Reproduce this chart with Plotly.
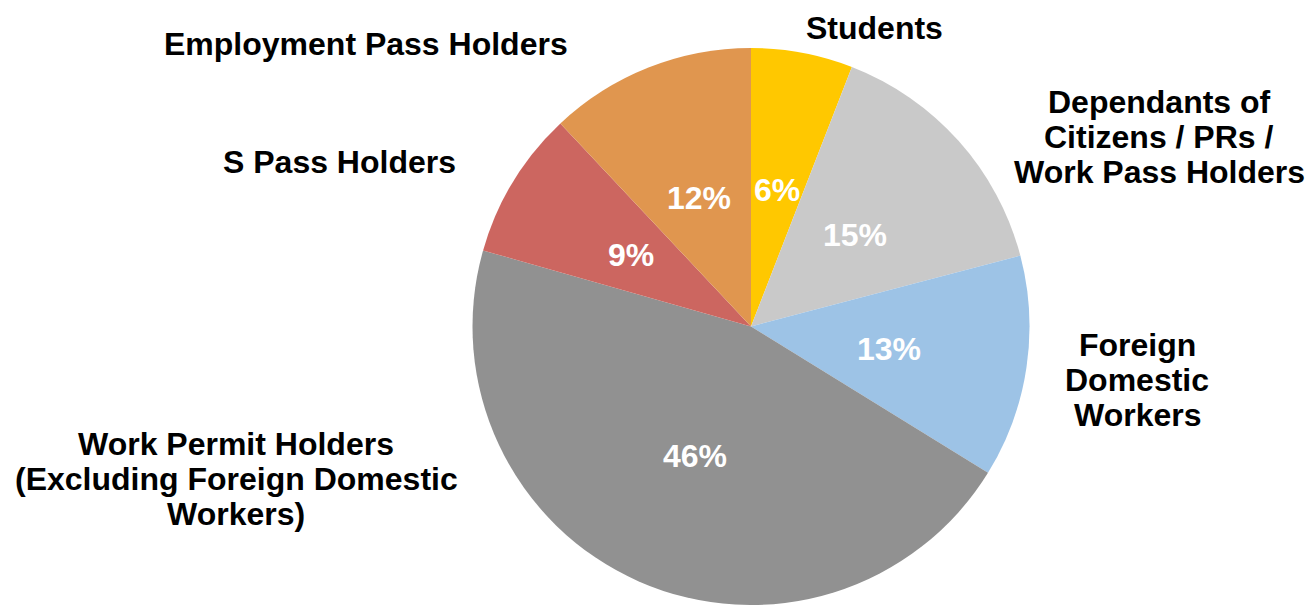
import math
import plotly.graph_objects as go

# ---- data ----
categories = [
    "Students",
    "Dependants of Citizens / PRs / Work Pass Holders",
    "Foreign Domestic Workers",
    "Work Permit Holders (Excluding Foreign Domestic Workers)",
    "S Pass Holders",
    "Employment Pass Holders",
]
shares = [5.9, 15.0, 12.9, 45.6, 8.6, 12.0]
colors = ["#FFC800", "#C9C9C9", "#9DC3E6", "#919191", "#CC6660", "#E0964F"]

# outside label lines (display text) and their anchor positions in pixels
label_lines = [
    ["Students"],
    ["Dependants of", "Citizens / PRs /", "Work Pass Holders"],
    ["Foreign", "Domestic", "Workers"],
    ["Work Permit Holders", "(Excluding Foreign Domestic", "Workers)"],
    ["S Pass Holders"],
    ["Employment Pass Holders"],
]
label_pos = [(874, 28), (1159, 102), (1137, 345), (236, 444), (339, 162), (366, 44)]
line_gap = 35

W, H = 1312, 605
cx, cy, R = 751, 328, 280
FONT = "Arial, Liberation Sans, sans-serif"
FS = 32

fig = go.Figure(go.Pie(
    labels=categories,
    values=shares,
    sort=False,
    direction="clockwise",
    rotation=0,
    marker=dict(colors=colors, line=dict(width=0)),
    textinfo="none",
    hoverinfo="label+percent",
    showlegend=False,
    domain=dict(x=[(cx - R) / W, (cx + R) / W], y=[max(0, (H - cy - R) / H), (H - cy + R) / H]),
))

annotations = []
# inside percentage labels at half radius along each slice's mid-angle
total = sum(shares)
cum = 0.0
for v in shares:
    mid = (cum + v / 2) / total * 2 * math.pi
    cum += v
    px = cx + 0.5 * R * math.sin(mid)
    py = cy - 0.5 * R * math.cos(mid)
    annotations.append(dict(
        x=px / W, y=1 - py / H, xref="paper", yref="paper",
        text=f"{round(v / total * 100)}%", showarrow=False,
        font=dict(family=FONT, size=FS, color="white", weight="bold"),
        xanchor="center", yanchor="middle",
    ))

# outside category labels
for lines, (lx, ly) in zip(label_lines, label_pos):
    for i, line in enumerate(lines):
        annotations.append(dict(
            x=lx / W, y=1 - (ly + i * line_gap) / H, xref="paper", yref="paper",
            text=line, showarrow=False,
            font=dict(family=FONT, size=FS, color="black", weight="bold"),
            xanchor="center", yanchor="middle",
        ))

fig.update_layout(
    width=W, height=H,
    margin=dict(l=0, r=0, t=0, b=0),
    paper_bgcolor="white",
    plot_bgcolor="white",
    annotations=annotations,
)

fig.write_html(
    "out.html",
    config={"displayModeBar": False},
    post_script="document.body.style.margin='0';document.body.style.overflow='hidden';",
)
